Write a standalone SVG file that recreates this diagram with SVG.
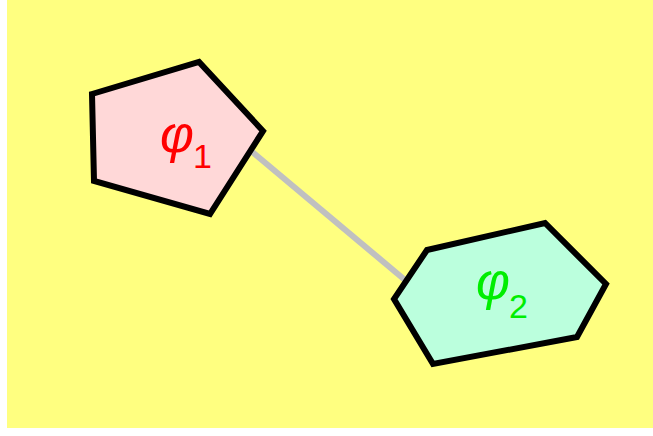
<svg xmlns="http://www.w3.org/2000/svg" width="653" height="436" viewBox="0 0 653 436">
<style>
.node{stroke:#000;stroke-width:6;stroke-linejoin:miter}
.lbl{font-family:"Liberation Sans",Arial,sans-serif;font-style:italic;font-size:52px}
.sub{font-family:"Liberation Sans",Arial,sans-serif;font-size:34px;font-style:normal}
.edge{stroke:#c0c0c0;stroke-width:6;fill:none}
</style>
<rect x="0" y="0" width="653" height="436" fill="#ffffff"/>
<rect x="7" y="0" width="646" height="428" fill="#ffff80"/>
<g id="connectors">
<line class="edge" x1="250" y1="150" x2="405" y2="280"/>
</g>
<g id="phi1">
<polygon class="node" fill="#ffd8d8" points="92,94 199,62 263,131 210,214 94,181"/>
<text class="lbl" x="160" y="152" fill="#ff0000">φ</text>
<text class="sub" x="193" y="168" fill="#ff0000">1</text>
</g>
<g id="phi2">
<polygon class="node" fill="#bbffdd" points="427,250 545,223 606,284 577,337 433,364 394,299"/>
<text class="lbl" x="476" y="299" fill="#00ee00">φ</text>
<text class="sub" x="509" y="318" fill="#00ee00">2</text>
</g>
</svg>
